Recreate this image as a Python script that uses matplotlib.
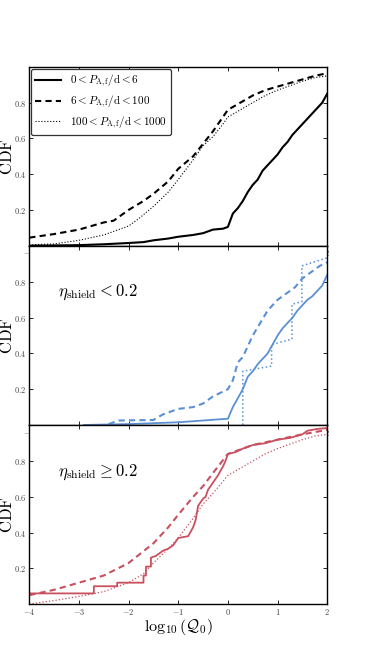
import matplotlib
matplotlib.use('Agg')
import matplotlib.pyplot as plt
from matplotlib.ticker import FuncFormatter

plt.rcParams['mathtext.fontset'] = 'cm'
plt.rcParams['font.family'] = 'serif'
plt.rcParams['font.serif'] = ['DejaVu Serif']

# ---- panel 1: all systems, split by period bin ----
p1_solid_x = [-4, -3, -2.5, -2, -1.7, -1.5, -1.2, -1, -0.7, -0.5, -0.3, -0.1, 0, 0.1, 0.2, 0.3, 0.4, 0.5,
              0.6, 0.7, 0.8, 0.9, 1.0, 1.1, 1.2, 1.3, 1.4, 1.5, 1.6, 1.7, 1.8, 1.9, 2.0]
p1_solid_y = [0.0, 0.003, 0.008, 0.015, 0.02, 0.03, 0.04, 0.05, 0.06, 0.07, 0.09, 0.095, 0.105, 0.18, 0.21,
              0.25, 0.30, 0.34, 0.37, 0.42, 0.45, 0.48, 0.51, 0.55, 0.58, 0.62, 0.65, 0.68, 0.71, 0.74, 0.77,
              0.80, 0.85]
p1_dash_x = [-4, -3.5, -3, -2.5, -2.3, -2, -1.7, -1.5, -1.2, -1, -0.7, -0.5, -0.3, -0.1, 0, 0.25, 0.5,
             0.75, 1.0, 1.25, 1.5, 1.75, 2.0]
p1_dash_y = [0.045, 0.065, 0.09, 0.13, 0.14, 0.20, 0.25, 0.29, 0.36, 0.43, 0.50, 0.57, 0.64, 0.72, 0.76,
             0.80, 0.84, 0.87, 0.89, 0.91, 0.93, 0.95, 0.965]
p1_dot_x = [-4, -3.5, -3, -2.5, -2.2, -2, -1.8, -1.5, -1.2, -1, -0.7, -0.5, -0.3, -0.1, 0, 0.25, 0.5,
            0.75, 1.0, 1.25, 1.5, 1.75, 2.0]
p1_dot_y = [0.005, 0.01, 0.03, 0.06, 0.09, 0.11, 0.15, 0.22, 0.30, 0.37, 0.48, 0.56, 0.61, 0.68, 0.72,
            0.76, 0.80, 0.84, 0.87, 0.895, 0.92, 0.94, 0.95]

# ---- panel 2: eta_shield < 0.2 ----
p2_solid_x = [-2.9, -2, -1, -0.5, 0, 0.1, 0.2, 0.3, 0.4, 0.5, 0.6, 0.7, 0.8, 0.9, 1.0, 1.1, 1.2, 1.3,
              1.4, 1.5, 1.6, 1.7, 1.8, 1.9, 2.0]
p2_solid_y = [0.0, 0.005, 0.015, 0.025, 0.035, 0.10, 0.15, 0.20, 0.27, 0.30, 0.34, 0.37, 0.40, 0.45,
              0.50, 0.54, 0.57, 0.60, 0.64, 0.67, 0.70, 0.72, 0.75, 0.78, 0.84]
p2_dash_x = [-2.4, -2.3, -2.2, -1.5, -1.4, -1.3, -1, -0.7, -0.5, -0.3, 0, 0.1, 0.2, 0.3, 0.5, 0.65, 0.8,
             1.0, 1.2, 1.35, 1.5, 1.7, 1.85, 2.0]
p2_dash_y = [0.005, 0.015, 0.025, 0.028, 0.045, 0.06, 0.09, 0.10, 0.12, 0.16, 0.20, 0.25, 0.35, 0.38,
             0.50, 0.57, 0.64, 0.70, 0.74, 0.77, 0.82, 0.86, 0.89, 0.91]
p2_dot_x = [0.3, 0.3, 0.88, 0.88, 1.29, 1.29, 1.49, 1.49, 2.0]
p2_dot_y = [0.0, 0.30, 0.33, 0.45, 0.48, 0.675, 0.69, 0.89, 0.935]

# ---- panel 3: eta_shield >= 0.2 ----
p3_solid_x = [-4, -2.7, -2.7, -2.23, -2.23, -1.7, -1.7, -1.65, -1.65, -1.55, -1.55, -1.45, -1.4, -1.3,
              -1.2, -1.1, -1.0, -0.9, -0.8, -0.7, -0.65, -0.6, -0.5, -0.45, -0.4, -0.3, -0.25, -0.2, -0.1,
              -0.05, 0, 0.15, 0.3, 0.5, 0.75, 1.0, 1.25, 1.5, 1.6, 1.8, 2.0]
p3_solid_y = [0.06, 0.06, 0.10, 0.10, 0.12, 0.12, 0.16, 0.16, 0.21, 0.21, 0.26, 0.27, 0.28, 0.30, 0.31,
              0.33, 0.37, 0.375, 0.38, 0.43, 0.47, 0.55, 0.59, 0.60, 0.64, 0.68, 0.70, 0.72, 0.77, 0.80,
              0.84, 0.85, 0.87, 0.89, 0.90, 0.92, 0.93, 0.95, 0.97, 0.98, 0.985]
p3_dash_x = [-4, -3.5, -3, -2.5, -2, -1.5, -1.2, -1, -0.7, -0.5, -0.2, 0, 0.5, 1.0, 1.5, 2.0]
p3_dash_y = [0.05, 0.08, 0.12, 0.16, 0.23, 0.34, 0.43, 0.50, 0.60, 0.66, 0.77, 0.84, 0.89, 0.92, 0.95,
             0.975]
p3_dot_x = [-4, -3.5, -3, -2.5, -2, -1.7, -1.5, -1.2, -1, -0.7, -0.5, -0.3, 0, 0.25, 0.5, 0.75, 1.0,
            1.25, 1.5, 1.75, 2.0]
p3_dot_y = [0.0, 0.02, 0.043, 0.07, 0.12, 0.17, 0.23, 0.31, 0.37, 0.48, 0.56, 0.62, 0.72, 0.76, 0.80,
            0.84, 0.87, 0.895, 0.92, 0.94, 0.95]

legend_labels = [r'$0 < P_{\rm A,f}/{\rm d} < 6$',
                 r'$6 < P_{\rm A,f}/{\rm d} < 100$',
                 r'$100 < P_{\rm A,f}/{\rm d} < 1000$']
panel_notes = [None, r'$\eta_{\rm shield} < 0.2$', r'$\eta_{\rm shield} \geq 0.2$']
xticks = [-4, -3, -2, -1, 0, 1, 2]
yticks = [0.2, 0.4, 0.6, 0.8]

black = 'black'
blue = '#5b90d3'
red = '#c9505f'

fig = plt.figure(figsize=(3.66, 6.72), dpi=100)
left, width, height = 0.080, 0.814, 0.2660
bottoms = [0.6344, 0.3676, 0.1010]
axes = [fig.add_axes([left, b, width, height]) for b in bottoms]

panels = [
    (black, (p1_solid_x, p1_solid_y), (p1_dash_x, p1_dash_y), (p1_dot_x, p1_dot_y), 1.5, 0.8),
    (blue, (p2_solid_x, p2_solid_y), (p2_dash_x, p2_dash_y), (p2_dot_x, p2_dot_y), 1.3, 1.1),
    (red, (p3_solid_x, p3_solid_y), (p3_dash_x, p3_dash_y), (p3_dot_x, p3_dot_y), 1.3, 0.9),
]

fmt = FuncFormatter(lambda v, pos: r'$%g$' % v)

for i, (ax, (c, s, d, o, lw, dlw)) in enumerate(zip(axes, panels)):
    ax.plot(s[0], s[1], color=c, lw=lw, label=legend_labels[0])
    ax.plot(d[0], d[1], color=c, lw=1.5, dashes=(3, 2), label=legend_labels[1])
    ax.plot(o[0], o[1], color=c, lw=dlw, ls=':', label=legend_labels[2])
    ax.set_xlim(-4, 2)
    ax.set_ylim(0, 1)
    ax.set_xticks(xticks)
    ax.set_yticks(yticks)
    ax.xaxis.set_major_formatter(fmt)
    ax.yaxis.set_major_formatter(fmt)
    ax.tick_params(direction='in', top=True, right=True, length=3, width=0.6,
                   labelsize=6, pad=2, labelcolor='#444444')
    for sp in ax.spines.values():
        sp.set_linewidth(1.0)
    ax.set_ylabel(r'$\mathrm{CDF}$', fontsize=12)
    ax.yaxis.set_label_coords(-0.045, 0.5)
    if panel_notes[i]:
        ax.text(-3.42, 0.74, panel_notes[i], fontsize=12, ha='left', va='center')

leg = axes[0].legend(loc='upper left', fontsize=8, handlelength=2.3, borderaxespad=0.15,
                     frameon=True, fancybox=True, framealpha=1, edgecolor='#333333',
                     labelspacing=0.4, borderpad=0.4, handletextpad=0.8)
leg.get_frame().set_linewidth(0.9)

axes[2].set_xlabel(r'$\log_{10}(\mathcal{Q}_0)$', fontsize=11.5, labelpad=0)

fig.savefig('out.png', dpi=100)
